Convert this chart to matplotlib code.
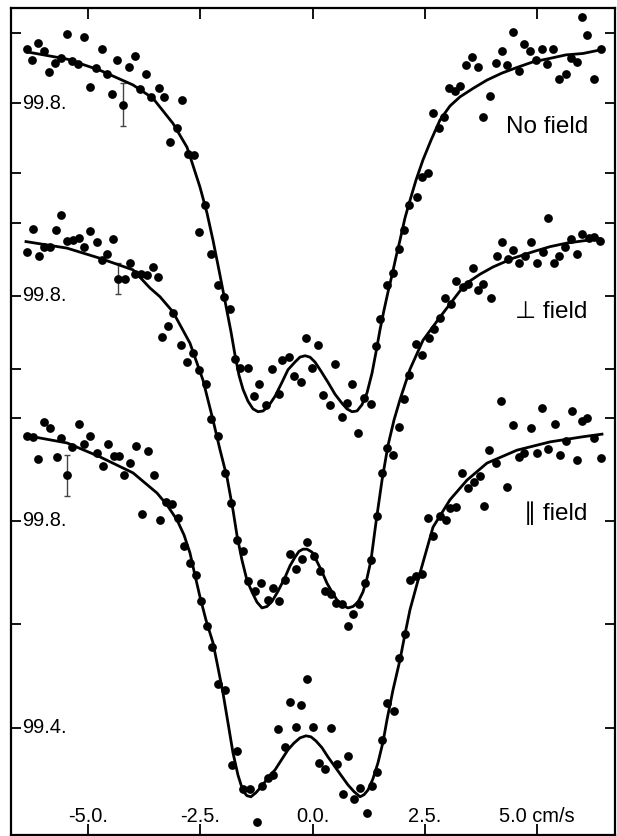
import matplotlib
matplotlib.use('Agg')
import matplotlib.pyplot as plt
import matplotlib.transforms as mtransforms

plt.rcParams['font.family'] = ['Liberation Sans', 'DejaVu Sans']

# velocity in cm/s, transmission in %
# --- no field ---
v_top = [-6.367, -6.243, -6.122, -5.982, -5.864, -5.737, -5.604, -5.477, -5.365, -5.232,
         -5.085, -4.958, -4.831, -4.684, -4.586, -4.461, -4.350, -4.216, -4.089, -3.955,
         -3.844, -3.717, -3.599, -3.421, -3.303, -3.176, -3.027, -2.915, -2.782, -2.635,
         -2.523, -2.390, -2.263, -2.100, -1.967, -1.840, -1.728, -1.617, -1.445, -1.305,
         -1.187, -1.038, -0.911, -0.748, -0.675, -0.526, -0.414, -0.265, -0.154, -0.007,
         0.127, 0.238, 0.388, 0.499, 0.648, 0.773, 0.884, 1.018, 1.145, 1.294,
         1.405, 1.501, 1.664, 1.797, 1.924, 2.036, 2.154, 2.318, 2.430, 2.577,
         2.675, 2.822, 2.927, 3.038, 3.171, 3.283, 3.416, 3.550, 3.677, 3.788,
         3.951, 4.078, 4.212, 4.336, 4.470, 4.604, 4.715, 4.842, 4.976, 5.102,
         5.227, 5.361, 5.494, 5.637, 5.748, 5.882, 6.000, 6.105, 6.267, 6.423]
t_top = [99.877, 99.861, 99.886, 99.875, 99.845, 99.857, 99.864, 99.899, 99.860, 99.856,
         99.895, 99.823, 99.850, 99.877, 99.842, 99.813, 99.861, 99.798, 99.852, 99.867,
         99.820, 99.841, 99.809, 99.822, 99.809, 99.744, 99.765, 99.804, 99.727, 99.726,
         99.616, 99.655, 99.584, 99.540, 99.523, 99.506, 99.435, 99.422, 99.422, 99.381,
         99.398, 99.368, 99.420, 99.384, 99.433, 99.437, 99.410, 99.402, 99.464, 99.422,
         99.454, 99.383, 99.368, 99.427, 99.351, 99.371, 99.399, 99.328, 99.379, 99.370,
         99.453, 99.491, 99.540, 99.557, 99.592, 99.618, 99.655, 99.666, 99.695, 99.700,
         99.786, 99.764, 99.780, 99.822, 99.818, 99.824, 99.854, 99.866, 99.852, 99.780,
         99.810, 99.857, 99.874, 99.854, 99.901, 99.846, 99.885, 99.875, 99.862, 99.878,
         99.856, 99.878, 99.835, 99.841, 99.865, 99.859, 99.923, 99.897, 99.834, 99.877]
fit_v_top = [-6.339, -5.470, -4.735, -3.999, -3.555, -3.109, -2.797, -2.664, -2.508, -2.352,
             -2.218, -2.062, -1.929, -1.817, -1.728, -1.639, -1.550, -1.439, -1.327, -1.216,
             -1.105, -0.993, -0.837, -0.682, -0.548, -0.392, -0.281, -0.169, -0.058, 0.053,
             0.187, 0.343, 0.499, 0.655, 0.766, 0.878, 0.989, 1.100, 1.212, 1.323,
             1.412, 1.501, 1.590, 1.679, 1.768, 1.857, 1.946, 2.058, 2.169, 2.303,
             2.459, 2.637, 2.838, 3.060, 3.283, 3.572, 3.884, 4.218, 4.552, 4.909,
             5.287, 5.644, 6.022, 6.401]
fit_t_top = [99.873, 99.863, 99.847, 99.826, 99.807, 99.771, 99.737, 99.711, 99.680, 99.643,
             99.604, 99.554, 99.510, 99.473, 99.440, 99.411, 99.391, 99.374, 99.363, 99.359,
             99.360, 99.366, 99.381, 99.401, 99.419, 99.430, 99.437, 99.439, 99.437, 99.430,
             99.417, 99.401, 99.384, 99.371, 99.363, 99.359, 99.360, 99.369, 99.386, 99.414,
             99.444, 99.476, 99.504, 99.530, 99.554, 99.580, 99.604, 99.636, 99.661, 99.690,
             99.719, 99.747, 99.776, 99.796, 99.809, 99.821, 99.833, 99.843, 99.851, 99.859,
             99.864, 99.869, 99.871, 99.876]
err_top = (-4.216, 99.798, 0.031)

# --- perpendicular field ---
v_mid = [-6.367, -6.234, -6.094, -5.976, -5.849, -5.715, -5.610, -5.463, -5.343, -5.203,
         -5.085, -4.958, -4.808, -4.697, -4.572, -4.452, -4.327, -4.178, -4.067, -3.955,
         -3.829, -3.682, -3.561, -3.437, -3.347, -3.214, -3.116, -2.938, -2.791, -2.657,
         -2.523, -2.374, -2.263, -2.100, -1.951, -1.824, -1.690, -1.543, -1.432, -1.283,
         -1.149, -1.000, -0.889, -0.742, -0.615, -0.503, -0.370, -0.243, -0.131, 0.031,
         0.165, 0.276, 0.410, 0.521, 0.661, 0.795, 0.906, 1.040, 1.167, 1.294,
         1.428, 1.552, 1.664, 1.797, 1.924, 2.042, 2.154, 2.296, 2.443, 2.592,
         2.704, 2.837, 2.949, 3.082, 3.187, 3.343, 3.454, 3.566, 3.690, 3.802,
         3.967, 4.100, 4.225, 4.359, 4.470, 4.597, 4.731, 4.857, 4.991, 5.125,
         5.249, 5.376, 5.488, 5.621, 5.755, 5.882, 5.993, 6.156, 6.274, 6.401]
t_mid = [99.860, 99.893, 99.855, 99.868, 99.868, 99.891, 99.911, 99.876, 99.877, 99.880,
         99.868, 99.889, 99.874, 99.850, 99.858, 99.879, 99.824, 99.823, 99.846, 99.831,
         99.831, 99.829, 99.840, 99.826, 99.744, 99.758, 99.776, 99.732, 99.709, 99.721,
         99.698, 99.679, 99.630, 99.607, 99.556, 99.515, 99.464, 99.448, 99.407, 99.393,
         99.405, 99.381, 99.398, 99.379, 99.408, 99.444, 99.423, 99.437, 99.461, 99.442,
         99.421, 99.394, 99.389, 99.377, 99.376, 99.345, 99.361, 99.375, 99.405, 99.436,
         99.497, 99.556, 99.591, 99.581, 99.620, 99.658, 99.691, 99.734, 99.719, 99.742,
         99.754, 99.769, 99.797, 99.789, 99.820, 99.812, 99.817, 99.838, 99.808, 99.817,
         99.797, 99.855, 99.874, 99.851, 99.863, 99.845, 99.855, 99.874, 99.845, 99.860,
         99.907, 99.845, 99.855, 99.868, 99.878, 99.858, 99.885, 99.880, 99.882, 99.876]
fit_v_mid = [-6.383, -5.470, -4.735, -3.999, -3.621, -3.399, -3.109, -2.731, -2.441, -2.218,
             -2.062, -1.906, -1.773, -1.684, -1.573, -1.461, -1.350, -1.239, -1.127, -1.016,
             -0.904, -0.771, -0.615, -0.504, -0.392, -0.303, -0.214, -0.125, -0.013, 0.098,
             0.209, 0.321, 0.432, 0.543, 0.655, 0.788, 0.900, 1.011, 1.122, 1.212,
             1.301, 1.412, 1.546, 1.679, 1.813, 1.946, 2.169, 2.459, 2.838, 3.283,
             3.439, 3.728, 4.018, 4.463, 4.909, 5.287, 5.666, 6.022, 6.401]
fit_t_mid = [99.875, 99.866, 99.852, 99.836, 99.811, 99.799, 99.778, 99.735, 99.684, 99.629,
             99.588, 99.550, 99.505, 99.470, 99.436, 99.408, 99.392, 99.378, 99.370, 99.372,
             99.379, 99.393, 99.412, 99.428, 99.440, 99.448, 99.451, 99.451, 99.447, 99.434,
             99.420, 99.404, 99.392, 99.381, 99.374, 99.370, 99.372, 99.378, 99.392, 99.411,
             99.436, 99.488, 99.546, 99.594, 99.629, 99.657, 99.699, 99.739, 99.771, 99.807,
             99.818, 99.830, 99.840, 99.852, 99.861, 99.868, 99.873, 99.876, 99.879]
err_mid = (-4.327, 99.824, 0.021)

# --- parallel field ---
v_bot = [-6.367, -6.220, -6.109, -5.976, -5.849, -5.699, -5.604, -5.463, -5.352, -5.203,
         -5.085, -4.958, -4.808, -4.675, -4.550, -4.423, -4.305, -4.194, -4.067, -3.933,
         -3.793, -3.673, -3.532, -3.399, -3.265, -3.125, -2.991, -2.864, -2.731, -2.604,
         -2.486, -2.359, -2.234, -2.100, -1.951, -1.802, -1.677, -1.543, -1.394, -1.245,
         -1.120, -0.987, -0.875, -0.777, -0.615, -0.503, -0.370, -0.258, -0.131, 0.016,
         0.149, 0.276, 0.403, 0.543, 0.670, 0.782, 0.915, 1.062, 1.218, 1.323,
         1.441, 1.552, 1.664, 1.808, 1.924, 2.058, 2.169, 2.303, 2.443, 2.563,
         2.688, 2.837, 2.964, 3.060, 3.193, 3.321, 3.468, 3.595, 3.728, 3.824,
         3.935, 4.085, 4.196, 4.336, 4.457, 4.597, 4.715, 4.857, 5.004, 5.116,
         5.249, 5.399, 5.510, 5.644, 5.771, 5.882, 5.993, 6.118, 6.274, 6.423]
t_bot = [99.965, 99.962, 99.919, 99.992, 99.979, 99.923, 99.961, 99.888, 99.944, 99.987,
         99.948, 99.965, 99.932, 99.906, 99.949, 99.926, 99.926, 99.888, 99.912, 99.945,
         99.813, 99.936, 99.889, 99.802, 99.836, 99.832, 99.806, 99.752, 99.718, 99.695,
         99.645, 99.597, 99.556, 99.485, 99.473, 99.328, 99.355, 99.281, 99.281, 99.217,
         99.286, 99.302, 99.308, 99.397, 99.362, 99.450, 99.402, 99.444, 99.494, 99.402,
         99.331, 99.319, 99.399, 99.329, 99.271, 99.344, 99.261, 99.283, 99.234, 99.287,
         99.313, 99.375, 99.447, 99.432, 99.534, 99.581, 99.686, 99.694, 99.697, 99.806,
         99.771, 99.810, 99.801, 99.825, 99.827, 99.892, 99.863, 99.876, 99.887, 99.828,
         99.937, 99.912, 100.033, 99.866, 99.986, 99.924, 99.932, 99.979, 99.931, 100.018,
         99.939, 99.987, 99.928, 99.955, 100.013, 99.918, 99.994, 99.999, 99.960, 99.921]
fit_v_bot = [-6.361, -6.227, -5.470, -4.735, -3.999, -3.465, -3.243, -3.020, -2.864, -2.731,
             -2.620, -2.508, -2.374, -2.218, -2.107, -1.996, -1.884, -1.773, -1.662, -1.550,
             -1.461, -1.372, -1.261, -1.127, -0.994, -0.837, -0.682, -0.548, -0.414, -0.281,
             -0.147, -0.036, 0.076, 0.209, 0.343, 0.499, 0.655, 0.788, 0.922, 1.056,
             1.145, 1.234, 1.345, 1.457, 1.568, 1.657, 1.791, 1.946, 2.058, 2.169,
             2.392, 2.682, 3.060, 3.439, 3.884, 4.552, 5.287, 6.022, 6.445]
fit_t_bot = [99.965, 99.963, 99.951, 99.924, 99.893, 99.854, 99.831, 99.802, 99.773, 99.738,
             99.695, 99.653, 99.608, 99.564, 99.516, 99.467, 99.409, 99.351, 99.308, 99.277,
             99.268, 99.266, 99.274, 99.287, 99.303, 99.318, 99.339, 99.357, 99.370, 99.380,
             99.384, 99.382, 99.374, 99.361, 99.343, 99.324, 99.305, 99.289, 99.276, 99.266,
             99.270, 99.279, 99.301, 99.332, 99.372, 99.415, 99.473, 99.531, 99.581, 99.628,
             99.699, 99.788, 99.841, 99.879, 99.912, 99.937, 99.953, 99.963, 99.968]
err_bot = (-5.463, 99.888, 0.040)

x_ticks = [-5.0, -2.5, 0.0, 2.5, 5.0]
x_tick_labels = ['-5.0.', '-2.5.', '0.0.', '2.5.', '5.0 cm/s']

y_lims = [(98.754, 99.936), (99.057, 100.197), (99.192, 100.793)]
y_ticks = [[99.9, 99.8, 99.7], [99.9, 99.8, 99.7], [100.0, 99.8, 99.6, 99.4]]
y_labels = [[(99.8, '99.8.')], [(99.8, '99.8.')], [(99.8, '99.8.'), (99.4, '99.4.')]]
field_names = ['No field', '\u22a5 field', '\u2225 field']
name_pos = [0.849, 0.625, 0.381]

fig = plt.figure(figsize=(6.17, 8.36), dpi=100)
rect = [11 / 617, 1 / 836, 604 / 617, 827 / 836]
ax0 = fig.add_axes(rect)
ax1 = fig.add_axes(rect, sharex=ax0)
ax2 = fig.add_axes(rect, sharex=ax0)
axes = [ax0, ax1, ax2]

ax0.set_xlim(-6.717, 6.735)
ax0.set_xticks(x_ticks)
ax0.tick_params(axis='x', direction='in', top=True, bottom=True,
                labelbottom=False, length=8, width=1.3)
for sp in ax0.spines.values():
    sp.set_linewidth(1.6)

spectra = [(v_top, t_top, fit_v_top, fit_t_top, err_top),
           (v_mid, t_mid, fit_v_mid, fit_t_mid, err_mid),
           (v_bot, t_bot, fit_v_bot, fit_t_bot, err_bot)]

xtrans = mtransforms.blended_transform_factory(ax0.transData, ax0.transAxes)
for v, lab in zip(x_ticks, x_tick_labels):
    ax0.text(v, 0.0161, lab, transform=xtrans, ha='center', va='baseline', fontsize=14.4)

for i, ax in enumerate(axes):
    v, t, fv, ft, err = spectra[i]
    if i > 0:
        ax.patch.set_visible(False)
        for sp in ax.spines.values():
            sp.set_visible(False)
        ax.tick_params(axis='x', which='both', bottom=False, top=False, labelbottom=False)
    ax.set_ylim(*y_lims[i])
    ax.set_yticks(y_ticks[i])
    ax.tick_params(axis='y', direction='in', left=True, right=True,
                   labelleft=False, length=7, width=1.3)
    ax.errorbar(err[0], err[1], yerr=err[2], fmt='none', ecolor='#444444',
                elinewidth=1.0, capsize=2.5, capthick=1.0)
    ax.plot(fv, ft, '-', color='black', lw=2.0)
    ax.plot(v, t, 'o', color='black', ms=6.3, mec='black', mew=0)
    ytrans = mtransforms.blended_transform_factory(ax.transAxes, ax.transData)
    for val, lab in y_labels[i]:
        ax.text(0.018, val, lab, transform=ytrans, ha='left', va='center', fontsize=14.4)
    ax.text(0.955, name_pos[i], field_names[i], transform=ax.transAxes,
            ha='right', va='baseline', fontsize=17.5)

plt.savefig('out.png', dpi=100)
